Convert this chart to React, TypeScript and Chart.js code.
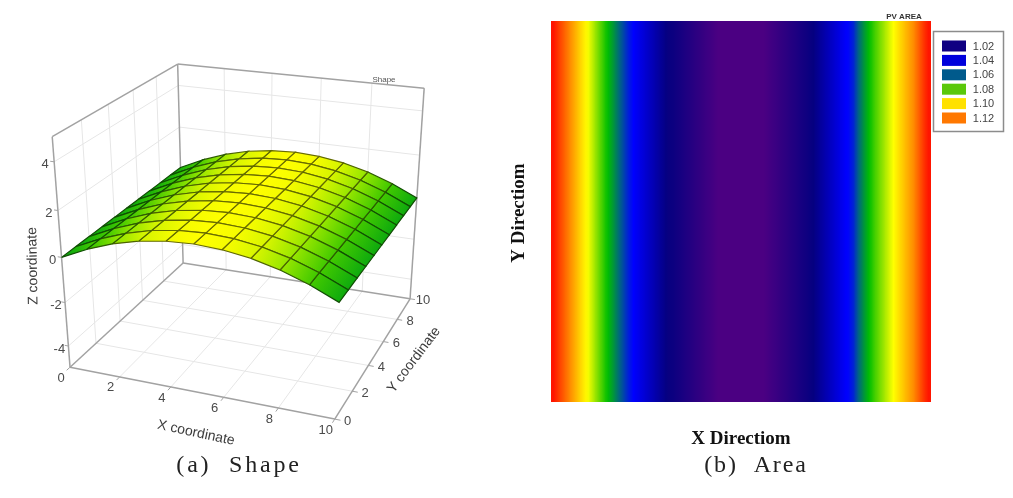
import React, { useEffect, useRef } from "react";
import { Chart, registerables } from "chart.js";

Chart.register(...registerables);

// ---------- Shape (3D surface) data ----------
const xGrid = [0, 1, 2, 3, 4, 5, 6, 7, 8, 9, 10];
const yGrid = [0, 1, 2, 3, 4, 5, 6, 7, 8, 9, 10];
const zProfile = [0, 0.52, 0.93, 1.22, 1.39, 1.45, 1.39, 1.22, 0.93, 0.52, 0];
const xTicks = [0, 2, 4, 6, 8, 10];
const yTicks = [0, 2, 4, 6, 8, 10];
const zTicks = [-4, -2, 0, 2, 4];
const zRange = [-5, 5];
// camera calibration: data corner -> plot-plane position
const cornerData = [
  [0, 0, -5], [10, 0, -5], [10, 10, -5], [0, 10, -5], [0, 0, 5], [0, 10, 5], [10, 10, 5],
];
const cornerPlane = [
  [70, 367], [335, 419], [410, 299], [183, 263], [52, 137], [178, 64], [424, 88],
];
const surfaceStops = [
  [0, 14, 170, 14], [0.5, 62, 200, 0], [0.93, 150, 230, 0], [1.22, 215, 245, 0], [1.45, 255, 255, 0],
];

// ---------- Area (colour map) data ----------
const pvArea = [
  1.137, 1.132, 1.127, 1.122, 1.116, 1.11, 1.104, 1.099, 1.094, 1.089, 1.084, 1.079, 1.071, 1.062, 1.054, 1.046,
  1.04, 1.037, 1.034, 1.031, 1.028, 1.025, 1.022, 1.019, 1.018, 1.016, 1.014, 1.012, 1.01, 1.008, 1.006, 1.004,
  1.002, 1.0, 0.999, 0.998, 0.998, 0.998, 0.998, 0.998, 0.998, 0.999, 1.0, 1.002, 1.004, 1.006, 1.008, 1.01,
  1.012, 1.014, 1.016, 1.018, 1.02, 1.023, 1.026, 1.029, 1.032, 1.035, 1.038, 1.041, 1.047, 1.06, 1.07, 1.079,
  1.084, 1.088, 1.092, 1.096, 1.1, 1.105, 1.11, 1.115, 1.12, 1.126, 1.132, 1.137,
];
const areaStops = [
  [1.0, 75, 0, 130], [1.02, 5, 0, 128], [1.04, 0, 0, 255], [1.06, 0, 100, 130], [1.08, 0, 190, 0],
  [1.1, 255, 255, 0], [1.12, 255, 140, 0], [1.14, 255, 0, 0],
];
const legendLabels = ["1.02", "1.04", "1.06", "1.08", "1.10", "1.12"];
const legendColors = ["#0f0082", "#0000dc", "#005a8c", "#5ac80a", "#ffe100", "#ff7800"];

// ---------- helpers ----------
function rampRgb(stops: number[][], v: number) {
  if (v <= stops[0][0]) return stops[0].slice(1);
  for (let i = 1; i < stops.length; i++) {
    if (v <= stops[i][0]) {
      const a = stops[i - 1], b = stops[i];
      const t = (v - a[0]) / (b[0] - a[0]);
      return [1, 2, 3].map((k) => Math.round(a[k] + (b[k] - a[k]) * t));
    }
  }
  return stops[stops.length - 1].slice(1);
}
function ramp(stops: number[][], v: number) {
  return `rgb(${rampRgb(stops, v).join(",")})`;
}

function solve(A: number[][], b: number[]) {
  const n = b.length;
  const M = A.map((r, i) => [...r, b[i]]);
  for (let c = 0; c < n; c++) {
    let p = c;
    for (let r = c + 1; r < n; r++) if (Math.abs(M[r][c]) > Math.abs(M[p][c])) p = r;
    [M[c], M[p]] = [M[p], M[c]];
    for (let r = 0; r < n; r++) {
      if (r === c) continue;
      const f = M[r][c] / M[c][c];
      for (let k = c; k <= n; k++) M[r][k] -= f * M[c][k];
    }
  }
  return M.map((r, i) => r[n] / r[i]);
}

function norm(p: number[]) {
  return [p[0] / 10, p[1] / 10, (p[2] - zRange[0]) / (zRange[1] - zRange[0])];
}

function calibrate() {
  const rows: number[][] = [];
  const rhs: number[] = [];
  cornerData.forEach((d, i) => {
    const [x, y, z] = norm(d);
    const [u, v] = cornerPlane[i];
    rows.push([x, y, z, 1, 0, 0, 0, 0, -u * x, -u * y, -u * z]);
    rhs.push(u);
    rows.push([0, 0, 0, 0, x, y, z, 1, -v * x, -v * y, -v * z]);
    rhs.push(v);
  });
  const n = 11;
  const AtA = Array.from({ length: n }, (_, a) =>
    Array.from({ length: n }, (_, b) => rows.reduce((s, r) => s + r[a] * r[b], 0))
  );
  const Atb = Array.from({ length: n }, (_, a) => rows.reduce((s, r, i) => s + r[a] * rhs[i], 0));
  return solve(AtA, Atb);
}
const cam = calibrate();
function project(px: number, py: number, pz: number) {
  const [x, y, z] = norm([px, py, pz]);
  const w = cam[8] * x + cam[9] * y + cam[10] * z + 1;
  return {
    x: (cam[0] * x + cam[1] * y + cam[2] * z + cam[3]) / w,
    y: (cam[4] * x + cam[5] * y + cam[6] * z + cam[7]) / w,
  };
}

function seg(a: number[], b: number[], color: string, width: number) {
  return {
    data: [project(a[0], a[1], a[2]), project(b[0], b[1], b[2])],
    showLine: true,
    borderColor: color,
    borderWidth: width,
    pointRadius: 0,
    fill: false,
  };
}

function surfaceDatasets() {
  const out: any[] = [];
  for (let j = 0; j < yGrid.length - 1; j++) {
    for (let i = 0; i < xGrid.length - 1; i++) {
      const x0 = xGrid[i], x1 = xGrid[i + 1], y0 = yGrid[j], y1 = yGrid[j + 1];
      const z0 = zProfile[i], z1 = zProfile[i + 1];
      const ym = (y0 + y1) / 2;
      const mesh = rampRgb(surfaceStops, (z0 + z1) / 2).map((c) => Math.round(c * 0.42));
      out.push({
        data: [project(x0, y0, z0), project(x1, y0, z1), project(x1, y1, z1), project(x0, y1, z0), project(x0, y0, z0)],
        showLine: true,
        pointRadius: 0,
        borderColor: `rgb(${mesh.join(",")})`,
        borderWidth: 1.2,
        fill: "shape",
        backgroundColor: (c: any) => {
          const xs = c.chart.scales.x, ys = c.chart.scales.y;
          const a = project(x0, ym, z0), b = project(x1, ym, z1);
          const coords = [
            xs.getPixelForValue(a.x), ys.getPixelForValue(a.y),
            xs.getPixelForValue(b.x), ys.getPixelForValue(b.y),
          ];
          if (!coords.every(Number.isFinite)) return ramp(surfaceStops, z0);
          const g = c.chart.ctx.createLinearGradient(coords[0], coords[1], coords[2], coords[3]);
          g.addColorStop(0, ramp(surfaceStops, z0));
          g.addColorStop(1, ramp(surfaceStops, z1));
          return g;
        },
      });
    }
  }
  return out;
}

function frameDatasets() {
  const c = "#a2a2a2";
  const [lo, hi] = zRange;
  const out = [
    seg([0, 0, lo], [0, 0, hi], c, 1.5),
    seg([0, 0, hi], [0, 10, hi], c, 1.5),
    seg([0, 10, hi], [10, 10, hi], c, 1.5),
    seg([10, 10, hi], [10, 10, lo], c, 1.5),
    seg([0, 10, hi], [0, 10, lo], c, 1.5),
    seg([0, 0, lo], [0, 10, lo], c, 1.5),
    seg([0, 10, lo], [10, 10, lo], c, 1.5),
    seg([0, 0, lo], [10, 0, lo], c, 1.5),
    seg([10, 0, lo], [10, 10, lo], c, 1.5),
  ];
  xTicks.forEach((t) => out.push(seg([t, 0, lo], [t, -0.25, lo], c, 1)));
  yTicks.forEach((t) => out.push(seg([10, t, lo], [10.2, t, lo], c, 1)));
  zTicks.forEach((t) => out.push(seg([0, 0, t], [-0.15, 0, t], c, 1)));
  return out;
}

function gridDatasets() {
  const c = "#e6e6e6";
  const [lo, hi] = zRange;
  const out: any[] = [];
  xTicks.slice(1, -1).forEach((t) => {
    out.push(seg([t, 0, lo], [t, 10, lo], c, 1));
    out.push(seg([t, 10, lo], [t, 10, hi], c, 1));
  });
  yTicks.slice(1, -1).forEach((t) => {
    out.push(seg([0, t, lo], [10, t, lo], c, 1));
    out.push(seg([0, t, lo], [0, t, hi], c, 1));
  });
  zTicks.forEach((t) => {
    out.push(seg([0, 0, t], [0, 10, t], c, 1));
    out.push(seg([0, 10, t], [10, 10, t], c, 1));
  });
  return out;
}

function label(ctx: any, text: string, x: number, y: number, font: string, color: string, rot = 0, spacing = "0px") {
  ctx.save();
  ctx.translate(x, y);
  ctx.rotate((rot * Math.PI) / 180);
  ctx.font = font;
  ctx.fillStyle = color;
  ctx.textAlign = "center";
  ctx.textBaseline = "middle";
  ctx.letterSpacing = spacing;
  ctx.fillText(text, 0, 0);
  ctx.restore();
}

const CAPTION_FONT = '24px "Liberation Serif"';
const tickColor = "#4a4a4a";
const tickFont = '13px "Liberation Sans"';

const shapeText = {
  id: "shapeText",
  afterDraw(chart: any) {
    const { ctx, scales } = chart;
    const sx = (p: any) => scales.x.getPixelForValue(p.x);
    const sy = (p: any) => scales.y.getPixelForValue(p.y);
    const lo = zRange[0];
    xTicks.forEach((t) => {
      const p = project(t, 0, lo);
      label(ctx, String(t), sx(p) - 9, sy(p) + 11, tickFont, tickColor);
    });
    yTicks.forEach((t) => {
      const p = project(10, t, lo);
      label(ctx, String(t), sx(p) + 13, sy(p) + 2, tickFont, tickColor);
    });
    zTicks.forEach((t) => {
      const p = project(0, 0, t);
      label(ctx, String(t), sx(p) - 9, sy(p) + 3, tickFont, tickColor);
    });
    label(ctx, "X coordinate", 196, 433, '14px "Liberation Sans"', "#3c3c3c", 12);
    label(ctx, "Y coordinate", 414, 360, '14px "Liberation Sans"', "#3c3c3c", -53);
    label(ctx, "Z coordinate", 33, 266, '14px "Liberation Sans"', "#3c3c3c", -91);
    label(ctx, "Shape", 384, 80, '8px "Liberation Sans"', "#555555");
    label(ctx, "(a)  Shape", 239, 466, CAPTION_FONT, "#222222", 0, "2.8px");
  },
};

const areaText = {
  id: "areaText",
  afterDraw(chart: any) {
    const { ctx, chartArea: a } = chart;
    const right = a.right;
    label(ctx, "PV AREA", right - 27, a.top - 4, 'bold 8px "Liberation Sans"', "#333333");
    label(ctx, "X Directiom", (a.left + a.right) / 2, a.bottom + 37, 'bold 19px "Liberation Serif"', "#111111");
    label(ctx, "Y Directiom", a.left - 32, 213, 'bold 19px "Liberation Serif"', "#111111", -90);
    label(ctx, "(b)  Area", 256, 466, CAPTION_FONT, "#222222", 0, "1.9px");
    // legend
    const lx = right + 2.5, ly = 31.5, lw = 70, lh = 100;
    ctx.save();
    ctx.strokeStyle = "#8c8c8c";
    ctx.lineWidth = 1.5;
    ctx.strokeRect(lx, ly, lw, lh);
    legendLabels.forEach((t, i) => {
      const y = 40.5 + i * 14.4;
      ctx.fillStyle = legendColors[i];
      ctx.fillRect(lx + 8.5, y, 24, 11);
      label(ctx, t, lx + 50, y + 6, '11px "Liberation Sans"', "#444444");
    });
    ctx.restore();
  },
};

// each column of the colour map blends into its neighbours
function columnFill(c: any) {
  const i = c.dataIndex;
  if (i === undefined) return "#000";
  const v = pvArea[i];
  const xs = c.chart.scales.x;
  const p0 = xs.getPixelForValue(i - 0.5), p1 = xs.getPixelForValue(i + 0.5);
  if (!Number.isFinite(p0) || !Number.isFinite(p1)) return ramp(areaStops, v);
  const g = c.chart.ctx.createLinearGradient(p0, 0, p1, 0);
  const prev = pvArea[i - 1] ?? v, next = pvArea[i + 1] ?? v;
  g.addColorStop(0, ramp(areaStops, (prev + v) / 2));
  g.addColorStop(0.5, ramp(areaStops, v));
  g.addColorStop(1, ramp(areaStops, (next + v) / 2));
  return g;
}

export default function App() {
  const leftRef = useRef<HTMLCanvasElement>(null);
  const rightRef = useRef<HTMLCanvasElement>(null);

  useEffect(() => {
    const left = new Chart(leftRef.current!, {
      type: "scatter",
      data: { datasets: [...surfaceDatasets(), ...frameDatasets(), ...gridDatasets()] as any },
      options: {
        responsive: false,
        animation: false,
        events: [],
        layout: { padding: 0 },
        plugins: { legend: { display: false }, tooltip: { enabled: false } },
        scales: {
          x: { type: "linear", min: 0, max: 500, display: false },
          y: { type: "linear", min: 0, max: 498, reverse: true, display: false },
        },
      },
      plugins: [shapeText],
    });
    const right = new Chart(rightRef.current!, {
      type: "bar",
      data: {
        labels: pvArea.map((_, i) => String(i)),
        datasets: [
          {
            data: pvArea.map(() => [0, 10]) as any,
            backgroundColor: columnFill,
            borderWidth: 0,
            barPercentage: 1,
            categoryPercentage: 1,
          },
        ],
      },
      options: {
        responsive: false,
        animation: false,
        events: [],
        layout: { padding: { left: 51, right: 82, top: 21, bottom: 96 } },
        plugins: { legend: { display: false }, tooltip: { enabled: false } },
        scales: {
          x: { display: false },
          y: { display: false, min: 0, max: 10 },
        },
      },
      plugins: [areaText],
    });
    return () => {
      left.destroy();
      right.destroy();
    };
  }, []);

  const soft = { position: "absolute", top: 0, filter: "blur(0.4px)" } as const;
  return (
    <div style={{ position: "fixed", left: 0, top: 0, width: 1013, height: 498, background: "#fff" }}>
      <canvas ref={leftRef} width={500} height={498} style={{ ...soft, left: 0 }} />
      <canvas ref={rightRef} width={513} height={498} style={{ ...soft, left: 500 }} />
    </div>
  );
}
